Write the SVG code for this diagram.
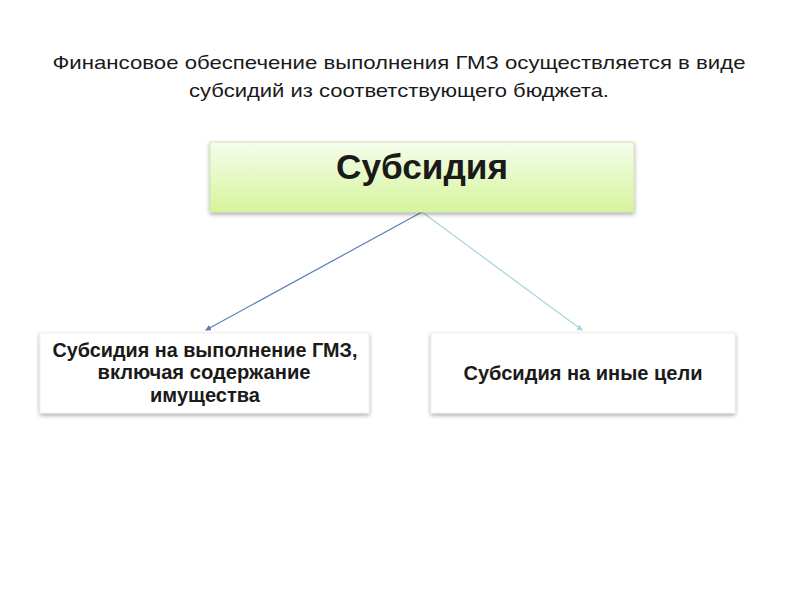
<svg xmlns="http://www.w3.org/2000/svg" width="800" height="600" viewBox="0 0 800 600">
<defs>
<linearGradient id="g" x1="0" y1="0" x2="0" y2="1">
<stop offset="0" stop-color="#f5fdec"/>
<stop offset="1" stop-color="#d6f59c"/>
</linearGradient>
<filter id="sh" x="-5%" y="-10%" width="110%" height="130%">
<feGaussianBlur in="SourceAlpha" stdDeviation="2"/>
<feOffset dx="0" dy="2" result="b"/>
<feComponentTransfer><feFuncA type="linear" slope="0.35"/></feComponentTransfer>
<feMerge><feMergeNode/><feMergeNode in="SourceGraphic"/></feMerge>
</filter>
<marker id="a1" markerWidth="6" markerHeight="6" refX="5" refY="3" orient="auto" markerUnits="userSpaceOnUse">
<path d="M0,0 L6,3 L0,6 z" fill="#5b7fb5"/>
</marker>
<marker id="a2" markerWidth="6" markerHeight="6" refX="5" refY="3" orient="auto" markerUnits="userSpaceOnUse">
<path d="M0,0 L6,3 L0,6 z" fill="#a8d4dc"/>
</marker>
</defs>
<style>
.t{font-family:"Liberation Sans",Arial,sans-serif;fill:#1a1a1a;text-anchor:middle}
.b{font-weight:bold;font-size:19.5px}
</style>
<rect width="800" height="600" fill="#fff"/>
<g id="title">
<text class="t" x="399" y="69" font-size="19" textLength="693" lengthAdjust="spacingAndGlyphs">Финансовое обеспечение выполнения ГМЗ осуществляется в виде</text>
<text class="t" x="399" y="97" font-size="19" textLength="420" lengthAdjust="spacingAndGlyphs">субсидий из соответствующего бюджета.</text>
</g>
<g id="connectors">
<line x1="422" y1="212" x2="206" y2="330" stroke="#5b7fb5" stroke-width="1.2" marker-end="url(#a1)"/>
<line x1="422" y1="212" x2="582" y2="330" stroke="#a8d4dc" stroke-width="1.2" marker-end="url(#a2)"/>
</g>
<g id="root">
<rect x="210" y="142" width="424" height="70" fill="url(#g)" stroke="#c8e2a8" stroke-width="0.8" filter="url(#sh)"/>
<text class="t" x="422" y="179" font-size="35" font-weight="bold" textLength="172" lengthAdjust="spacingAndGlyphs">Субсидия</text>
</g>
<g id="left">
<rect x="40" y="333" width="329" height="80" fill="#fff" stroke="#ececec" stroke-width="0.8" filter="url(#sh)"/>
<text class="t b" x="205" y="357" textLength="305" lengthAdjust="spacingAndGlyphs">Субсидия на выполнение ГМЗ,</text>
<text class="t b" x="204" y="379" textLength="213" lengthAdjust="spacingAndGlyphs">включая содержание</text>
<text class="t b" x="205" y="402" textLength="110" lengthAdjust="spacingAndGlyphs">имущества</text>
</g>
<g id="right">
<rect x="431" y="333" width="304" height="80" fill="#fff" stroke="#ececec" stroke-width="0.8" filter="url(#sh)"/>
<text class="t b" x="583" y="380" textLength="239" lengthAdjust="spacingAndGlyphs">Субсидия на иные цели</text>
</g>
</svg>
